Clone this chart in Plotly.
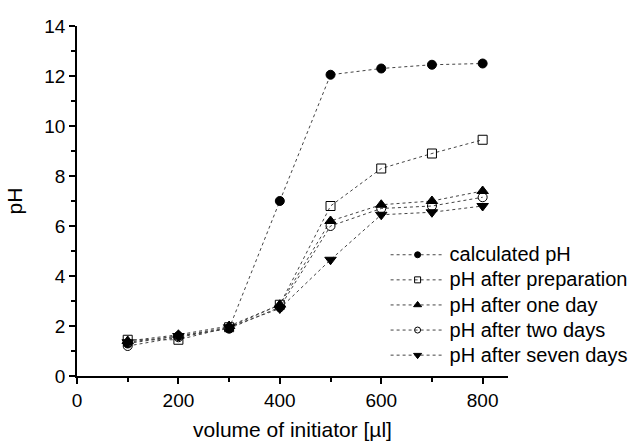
import plotly.graph_objects as go

volume = [100, 200, 300, 400, 500, 600, 700, 800]
calculated_ph = [1.3, 1.6, 1.9, 7.0, 12.05, 12.3, 12.45, 12.5]
ph_preparation = [1.45, 1.45, 1.95, 2.85, 6.8, 8.3, 8.9, 9.45]
ph_one_day = [1.4, 1.65, 2.0, 2.85, 6.2, 6.85, 7.0, 7.4]
ph_two_days = [1.2, 1.55, 1.9, 2.75, 6.0, 6.7, 6.8, 7.15]
ph_seven_days = [1.35, 1.6, 1.95, 2.7, 4.65, 6.45, 6.55, 6.8]

series = [
    ("calculated pH", calculated_ph, "circle"),
    ("pH after preparation", ph_preparation, "square-open"),
    ("pH after one day", ph_one_day, "triangle-up"),
    ("pH after two days", ph_two_days, "circle-open"),
    ("pH after seven days", ph_seven_days, "triangle-down"),
]

fig = go.Figure()
for i, (name, vals, sym) in enumerate(series):
    big = 10 if "triangle" in sym else 9
    fig.add_trace(go.Scatter(
        x=volume, y=vals, name=name, mode="lines+markers", showlegend=False,
        line=dict(color="#444444", width=1, dash="dot"),
        marker=dict(symbol=sym, size=big, color="black",
                    line=dict(color="black", width=1)),
    ))
    fig.add_trace(go.Scatter(
        x=[None], y=[None], name='<span style="font-size:20px">' + name + '</span>',
        mode="lines+markers",
        line=dict(color="#444444", width=1, dash="dot"),
        marker=dict(symbol=sym, size=7 if "triangle" in sym else 6, color="black",
                    line=dict(color="black", width=1)),
    ))

font = "Liberation Sans, Arial, sans-serif"
fig.update_layout(
    width=631, height=441,
    margin=dict(l=77, r=123, t=26, b=65, autoexpand=False),
    plot_bgcolor="white", paper_bgcolor="white",
    font=dict(family=font, size=19, color="black"),
    showlegend=True,
    legend=dict(x=0.716, y=0.008, xanchor="left", yanchor="bottom",
                bgcolor="rgba(0,0,0,0)", font=dict(size=17),
                tracegroupgap=0, itemwidth=54),
    xaxis=dict(range=[0, 850], tickvals=[0, 200, 400, 600, 800], automargin=False,
               showgrid=False, zeroline=False, showline=True, linecolor="black", linewidth=1.5,
               ticks="outside", ticklen=6, tickwidth=1.5, tickcolor="black",
               minor=dict(tickvals=[100, 300, 500, 700], ticks="outside", ticklen=4, tickwidth=1.5, tickcolor="black"),
               title=dict(text="volume of initiator [µl]", font=dict(size=21), standoff=18),
               tickfont=dict(size=19)),
    yaxis=dict(range=[0, 14], tickvals=list(range(0, 15, 2)), automargin=False,
               showgrid=False, zeroline=False, showline=True, linecolor="black", linewidth=1.5,
               ticks="outside", ticklen=6, tickwidth=1.5, tickcolor="black",
               minor=dict(tickvals=list(range(1, 14, 2)), ticks="outside", ticklen=4, tickwidth=1.5, tickcolor="black"),
               title=dict(text="pH", font=dict(size=21), standoff=16),
               tickfont=dict(size=19)),
)

fig.write_html("out.html")
